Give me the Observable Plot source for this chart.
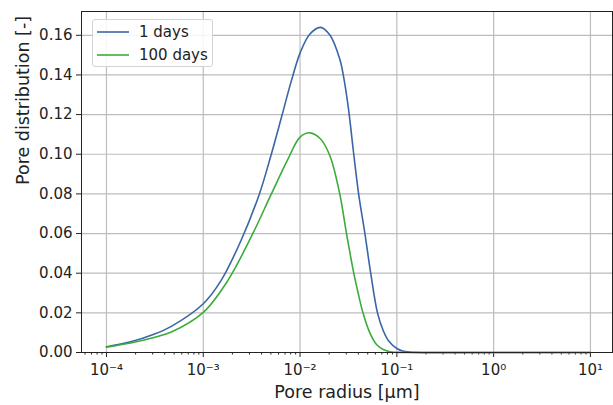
<!DOCTYPE html>
<html><head><meta charset="utf-8">
<script src="https://cdn.jsdelivr.net/npm/d3@7"></script>
<script src="https://cdn.jsdelivr.net/npm/@observablehq/plot@0.6"></script>
<style>
body{margin:0;background:#fff;font-family:"DejaVu Sans",sans-serif;}
#wrap{position:relative;width:613px;height:405px;overflow:hidden;}
.legend{position:absolute;left:92px;top:19px;width:119px;height:46px;border:1px solid #d4d4d4;border-radius:3px;background:rgba(255,255,255,0.85);font-size:15px;color:#222;}
.legend .row{position:absolute;left:4px;height:18px;display:flex;align-items:center;}
.legend svg{margin-right:10px;}
</style>
</head><body>
<div id="wrap"></div>
<script>
// Series names
const seriesNames = ["1 days", "100 days"];
const seriesColors = ["#3b66a6", "#3cab3c"];

// 1 day: log10 pore radius [µm] and pore distribution [-]
const logR1 = [-4.0, -3.75, -3.51, -3.33, -3.0, -2.82, -2.61, -2.42, -2.30, -2.19, -2.09, -2.0, -1.90, -1.79, -1.69, -1.59, -1.55, -1.50, -1.45, -1.395, -1.33, -1.27, -1.20, -1.14, -1.08, -1.0, -0.93, -0.8, -0.6, 0, 1];
const dist1 = [0.0029, 0.0054, 0.0092, 0.0132, 0.0246, 0.036, 0.0565, 0.080, 0.0995, 0.119, 0.137, 0.151, 0.1605, 0.1640, 0.160, 0.148, 0.139, 0.123, 0.102, 0.080, 0.060, 0.040, 0.020, 0.011, 0.0055, 0.002, 0.0006, 0.0001, 0, 0, 0];

// 100 days
const logR100 = [-4.0, -3.75, -3.51, -3.33, -3.0, -2.75, -2.49, -2.30, -2.13, -2.0, -1.90, -1.79, -1.69, -1.59, -1.52, -1.445, -1.40, -1.35, -1.28, -1.21, -1.14, -1.07, -0.9, 0, 1];
const dist100 = [0.0027, 0.0048, 0.0076, 0.0103, 0.0202, 0.036, 0.0598, 0.0796, 0.097, 0.1086, 0.1108, 0.1078, 0.099, 0.080, 0.060, 0.040, 0.030, 0.020, 0.010, 0.004, 0.0015, 0.0004, 0, 0, 0];

// Axis ticks
const xMajorExp = [-4, -3, -2, -1, 0, 1];
const yTicks = [0, 0.02, 0.04, 0.06, 0.08, 0.10, 0.12, 0.14, 0.16];
const xLabel = "Pore radius [\u03bcm]";
const yLabel = "Pore distribution [-]";

const xMajor = xMajorExp.map(e => 10 ** e);
const xMinor = [];
for (let e = -5; e <= 1; e++) for (let m = 2; m <= 9; m++) xMinor.push(m * 10 ** e);
const xDomain = [10 ** -4.258, 10 ** 1.228];
const xMinorIn = xMinor.filter(v => v >= xDomain[0] && v <= xDomain[1]);

const supMap = {"-": "\u207b", "0": "\u2070", "1": "\u00b9", "2": "\u00b2", "3": "\u00b3", "4": "\u2074", "5": "\u2075", "6": "\u2076", "7": "\u2077", "8": "\u2078", "9": "\u2079"};
const sup = d => "10" + String(Math.round(Math.log10(d))).split("").map(c => supMap[c]).join("");

const data1 = logR1.map((e, i) => ({r: 10 ** e, v: dist1[i]}));
const data100 = logR100.map((e, i) => ({r: 10 ** e, v: dist100[i]}));

const chart = Plot.plot({
  width: 613, height: 405,
  marginLeft: 81, marginRight: 1, marginTop: 11, marginBottom: 53,
  style: {fontFamily: "DejaVu Sans, sans-serif", fontSize: "15px", color: "#222", background: "white", overflow: "visible"},
  x: {type: "log", domain: xDomain},
  y: {domain: [0, 0.172]},
  marks: [
    Plot.gridX(xMajor, {stroke: "#bdbdbd", strokeOpacity: 1, strokeWidth: 1.2}),
    Plot.gridY(yTicks, {stroke: "#bdbdbd", strokeOpacity: 1, strokeWidth: 1.2}),
    Plot.axisX(xMinorIn, {tickSize: 2.5, tickFormat: () => "", label: null, stroke: "#222"}),
    Plot.axisX(xMajor, {tickSize: 5, tickPadding: 7, tickFormat: sup, label: null, stroke: "#222"}),
    Plot.axisY(yTicks, {tickSize: 5, tickPadding: 4, tickFormat: d3.format(".2f"), label: null, stroke: "#222"}),
    Plot.line(data1, {x: "r", y: "v", stroke: seriesColors[0], strokeWidth: 1.6, curve: "catmull-rom"}),
    Plot.line(data100, {x: "r", y: "v", stroke: seriesColors[1], strokeWidth: 1.6, curve: "catmull-rom"}),
    Plot.frame({stroke: "#222", strokeWidth: 1}),
    Plot.text([xLabel], {text: d => d, frameAnchor: "bottom", dy: 45, lineAnchor: "bottom", fontSize: 17.5, fill: "#222"}),
    Plot.text([yLabel], {text: d => d, frameAnchor: "left", dx: -53, dy: 3, rotate: -90, lineAnchor: "bottom", fontSize: 17.5, fill: "#222"})
  ]
});

const wrap = document.getElementById("wrap");
wrap.appendChild(chart);

const legend = document.createElement("div");
legend.className = "legend";
seriesNames.forEach((name, i) => {
  const row = document.createElement("div");
  row.className = "row";
  row.style.top = (3 + i * 22.5) + "px";
  row.innerHTML = `<svg width="32" height="4"><line x1="0" y1="2" x2="32" y2="2" stroke="${seriesColors[i]}" stroke-width="1.6"/></svg><span>${name}</span>`;
  legend.appendChild(row);
});
wrap.appendChild(legend);
</script>
</body></html>
